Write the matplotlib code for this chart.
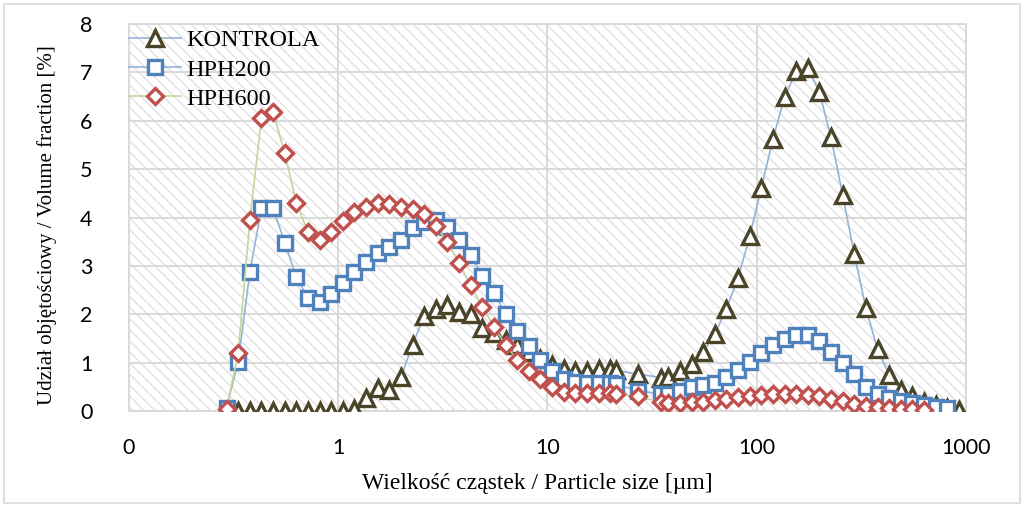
import matplotlib
matplotlib.use("Agg")
import matplotlib.pyplot as plt
from matplotlib.patches import Rectangle
from matplotlib.ticker import FixedLocator, FixedFormatter, NullLocator

# ---------------- data ----------------
size_um = [0.293, 0.333, 0.379, 0.430, 0.489, 0.556, 0.632, 0.718, 0.816, 0.927,
           1.053, 1.197, 1.360, 1.546, 1.757, 1.997, 2.269, 2.578, 2.930, 3.330,
           3.784, 4.300, 4.886, 5.553, 6.310, 7.171, 8.149, 9.261, 10.52, 11.96,
           13.59, 15.44, 17.55, 19.8, 21.3, 27.0, 34.9, 37.8, 42.95, 48.81,
           55.47, 63.04, 71.63, 81.41, 92.51, 105.1, 119.5, 135.8, 154.3, 175.3,
           199.2, 226.4, 257.3, 292.4, 332.3, 377.6, 429.1, 487.6, 554.1, 629.7,
           715.6, 813.2, 924.1]

kontrola = [0, 0, 0, 0, 0, 0, 0, 0, 0, 0,
            0, 0.05, 0.28, 0.48, 0.45, 0.71, 1.38, 1.97, 2.11, 2.20,
            2.06, 2.00, 1.72, 1.62, 1.47, 1.37, 1.22, 1.08, 0.95, 0.87,
            0.83, 0.83, 0.87, 0.87, 0.85, 0.77, 0.70, 0.72, 0.83, 0.97,
            1.23, 1.59, 2.12, 2.75, 3.61, 4.60, 5.62, 6.48, 7.02, 7.08,
            6.59, 5.65, 4.47, 3.24, 2.13, 1.28, 0.76, 0.45, 0.31, 0.20,
            0.13, 0.08, 0.03]

hph200 = [0.08, 1.03, 2.88, 4.19, 4.19, 3.48, 2.77, 2.34, 2.26, 2.43,
          2.64, 2.88, 3.08, 3.27, 3.40, 3.54, 3.78, 3.90, 3.95, 3.81,
          3.54, 3.23, 2.80, 2.44, 2.02, 1.65, 1.34, 1.06, 0.84, 0.66,
          0.60, 0.58, 0.58, 0.58, 0.56, 0.43, 0.36, 0.36, 0.42, 0.50,
          0.55, 0.59, 0.71, 0.85, 1.03, 1.20, 1.37, 1.50, 1.58, 1.58,
          1.45, 1.23, 0.99, 0.77, 0.51, 0.37, 0.27, 0.22, 0.17, 0.13,
          0.10, 0.07]

hph600 = [0.05, 1.20, 3.95, 6.05, 6.18, 5.32, 4.30, 3.70, 3.53, 3.71,
          3.92, 4.12, 4.22, 4.30, 4.28, 4.22, 4.17, 4.07, 3.82, 3.50,
          3.06, 2.60, 2.16, 1.75, 1.37, 1.07, 0.84, 0.67, 0.51, 0.41,
          0.38, 0.38, 0.38, 0.38, 0.36, 0.31, 0.19, 0.17, 0.17, 0.19,
          0.20, 0.23, 0.26, 0.29, 0.32, 0.34, 0.36, 0.37, 0.37, 0.35,
          0.32, 0.26, 0.21, 0.16, 0.12, 0.09, 0.07, 0.06, 0.05, 0.04]

series_names = ["KONTROLA", "HPH200", "HPH600"]
x_ticks = [0.1, 1, 10, 100, 1000]
x_tick_labels = ["0", "1", "10", "100", "1000"]
y_ticks = [0, 1, 2, 3, 4, 5, 6, 7, 8]

# ---------------- style ----------------
GRID = "#d9d9d9"
plt.rcParams["hatch.linewidth"] = 1.0

fig = plt.figure(figsize=(10.24, 5.07), dpi=100)
fig.patch.set_facecolor("white")
fig.patches.append(Rectangle((0.004, 0.008), 0.992, 0.984, transform=fig.transFigure,
                             fill=False, edgecolor=GRID, linewidth=1.2))

ax = fig.add_axes([0.1258, 0.1884, 0.8176, 0.7652])
ax.set_xscale("log")
ax.set_xlim(0.1, 1000)
ax.set_ylim(0, 8)

# hatched plot-area background
ax.add_patch(Rectangle((0, 0), 1, 1, transform=ax.transAxes, facecolor="white",
                       edgecolor="#e2e2e2", hatch="\\\\\\", linewidth=0, zorder=0.1))

ax.set_axisbelow(True)
ax.xaxis.set_major_locator(FixedLocator(x_ticks))
ax.xaxis.set_major_formatter(FixedFormatter(x_tick_labels))
ax.xaxis.set_minor_locator(NullLocator())
ax.set_yticks(y_ticks)
ax.grid(True, which="major", color=GRID, linewidth=1.4)
for sp in ax.spines.values():
    sp.set_color(GRID)
    sp.set_linewidth(1.4)
ax.tick_params(axis="both", length=0, labelsize=15.5, colors="black")
ax.tick_params(axis="y", pad=26)
ax.tick_params(axis="x", pad=19)
for lab in ax.get_xticklabels() + ax.get_yticklabels():
    lab.set_family(["Lato", "DejaVu Sans"])

ax.plot(size_um[:len(kontrola)], kontrola, color="#95b3d7", lw=1.2,
        marker="^", ms=11, mfc="white", mec="#4a4529", mew=2.4, label=series_names[0], zorder=3)
ax.plot(size_um[:len(hph200)], hph200, color="#95b3d7", lw=1.2,
        marker="s", ms=10, mfc="white", mec="#4f81bd", mew=2.4, label=series_names[1], zorder=4)
ax.plot(size_um[:len(hph600)], hph600, color="#c3d69b", lw=1.2,
        marker="D", ms=8.3, mfc="white", mec="#c0504d", mew=2.4, label=series_names[2], zorder=5)

leg = ax.legend(loc="upper left", bbox_to_anchor=(0.0, 0.985), frameon=False,
                prop={"family": "Liberation Serif", "size": 17.5}, handlelength=2.15,
                handletextpad=0.2, labelspacing=0.3, borderaxespad=0.0, borderpad=0.0)

fig.text(537 / 1024, 1 - 484 / 507, "Wielkość cząstek / Particle size [µm]",
         ha="center", va="center", family="Liberation Serif", fontsize=17)
fig.text(47 / 1024, 1 - 225 / 507, "Udział objętościowy / Volume fraction [%]",
         ha="center", va="center", rotation=90, family="Liberation Serif", fontsize=15)

fig.savefig("out.png", dpi=100)
